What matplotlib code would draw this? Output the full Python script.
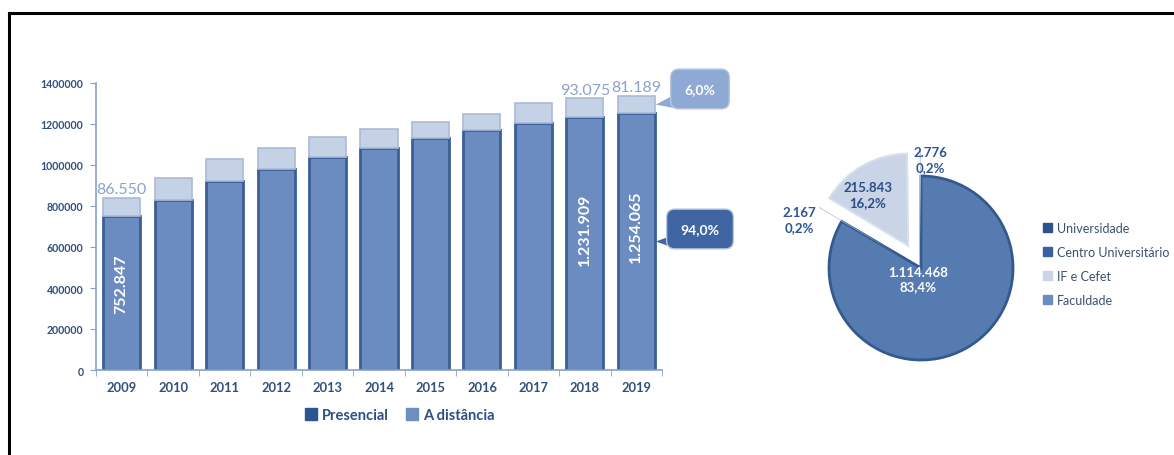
import matplotlib
matplotlib.use("Agg")
import matplotlib.pyplot as plt
from matplotlib.patches import Patch, Polygon
from matplotlib.lines import Line2D
import numpy as np

plt.rcParams['font.family'] = ['Lato', 'DejaVu Sans']

# matrículas por modalidade
anos = ['2009', '2010', '2011', '2012', '2013', '2014', '2015', '2016', '2017', '2018', '2019']
presencial = [752847, 829000, 923500, 982000, 1040600, 1081500, 1130000, 1171000, 1205000, 1231909, 1254065]
distancia = [86550, 107600, 105700, 102500, 94400, 95500, 81000, 78000, 99000, 93075, 81189]
rotulados = [0, 9, 10]  # anos com valores escritos
participacao_2019 = ['6,0%', '94,0%']

# distribuição por organização acadêmica (2019)
categorias = ['Universidade', 'Centro Universitário', 'IF e Cefet', 'Faculdade']
matriculas = [1114468, 2167, 215843, 2776]
rotulos_pizza = ['1.114.468\n83,4%', '2.167\n0,2%', '215.843\n16,2%', '2.776\n0,2%']
cores_legenda = ['#2c5290', '#3b62a0', '#c9d4e6', '#6c8dc1']
cores_fatias = ['#567bb1', '#b9c7de', '#c9d4e6', '#b9c7de']

def fmt(v):
    return f'{v:,}'.replace(',', '.')

W, H = 1174, 456
fig = plt.figure(figsize=(W / 100, H / 100), dpi=100)

# ---- barras ----
ax = fig.add_axes([96 / W, 1 - 371 / H, (662 - 96) / W, (371 - 84) / H])
x = np.arange(len(anos))
azul_eixo = '#86a0c8'
ax.bar(x, presencial, width=0.72, color='#6b8cc0', edgecolor='#3b5e97', linewidth=2, zorder=2)
ax.bar(x, distancia, width=0.72, bottom=presencial, color='#c5d1e5', edgecolor='#a9bbd8',
       linewidth=1.2, zorder=2)
ax.set_xlim(-0.5, len(anos) - 0.5)
ax.set_ylim(0, 1400000)
ax.set_yticks(range(0, 1400001, 200000))
ax.set_yticklabels([str(v) for v in range(0, 1400001, 200000)], fontsize=7.6,
                   color='#2f4f80', fontweight='bold')
ax.set_xticks(x)
ax.set_xticklabels(anos, fontsize=9.3, color='#2f4f80', fontweight='bold')
ax.set_xticks(np.arange(-0.5, len(anos)), minor=True)
ax.tick_params(axis='x', which='major', length=0, pad=8)
ax.tick_params(axis='x', which='minor', length=4, color=azul_eixo, direction='out')
ax.tick_params(axis='y', length=4, color=azul_eixo, pad=5)
for s in ['top', 'right']:
    ax.spines[s].set_visible(False)
for s in ['left', 'bottom']:
    ax.spines[s].set_color(azul_eixo)
    ax.spines[s].set_linewidth(1.2)

for i in rotulados:
    ax.text(x[i], presencial[i] + distancia[i] + 9000, fmt(distancia[i]), ha='center',
            va='bottom', fontsize=11.5, color='#8aa3cb')
    ax.text(x[i], presencial[i] * 0.56, fmt(presencial[i]), ha='center', va='center',
            rotation=90, fontsize=11.5, color='white', fontweight='bold')

# balões com participação em 2019
ult = len(anos) - 1
baloes = [
    (participacao_2019[0], presencial[ult] + distancia[ult] / 2, '#8ea9d3', 90),
    (participacao_2019[1], presencial[ult] / 2, '#3f66a3', 230),
]
for txt, yv, cor, ycaixa in baloes:
    tip = ax.transData.transform((x[ult] + 0.36, yv))
    tx, ty = tip[0] + 1, tip[1]
    yb = H - ycaixa
    tri = Polygon([(tx, ty), (674, yb - 19), (674, yb - 6)], closed=True,
                  facecolor=cor, edgecolor='none', transform=None, zorder=3)
    fig.patches.append(tri)
    fig.text(700 / W, yb / H, txt, ha='center', va='center',
             fontsize=10, fontweight='bold', color='white',
             bbox=dict(boxstyle='round,pad=1.0,rounding_size=0.6', facecolor=cor,
                       edgecolor='#b6c6df', linewidth=1))

fig.legend(handles=[Patch(color='#2d5591', label='Presencial'),
                    Patch(color='#6d8ec0', label='A distância')],
           loc='center', bbox_to_anchor=(400 / W, 1 - 416 / H), ncol=2, frameon=False,
           handlelength=0.8, handleheight=0.8, handletextpad=0.35, columnspacing=1.2,
           prop={'size': 10.5, 'weight': 'bold'}, labelcolor='#2d4f85')

# ---- pizza ----
cx, cy, r_px, meia = 921, 269, 92, 150
lim = meia / r_px
axp = fig.add_axes([(cx - meia) / W, (H - cy - meia) / H, 2 * meia / W, 2 * meia / H])
wedges, _ = axp.pie(matriculas, colors=cores_fatias, startangle=90, counterclock=False,
                    explode=[0, 0.29, 0.28, 0.29],
                    wedgeprops=dict(edgecolor='#34598f', linewidth=0))
wedges[0].set_edgecolor('#34598f')
wedges[0].set_linewidth(2)
wedges[2].set_edgecolor('#d7dfec')
wedges[2].set_linewidth(1.5)
axp.set_xlim(-lim, lim)
axp.set_ylim(-lim, lim)
axp.set_aspect('equal')
axp.axis('off')

pos_rotulos = [(-0.03, -0.12), (-1.32, 0.53), (-0.58, 0.80), (0.1, 1.18)]
cor_rotulos = ['white', '#2f5490', '#2b4d86', '#2f5490']
for (px, py), txt, c in zip(pos_rotulos, rotulos_pizza, cor_rotulos):
    axp.text(px, py, txt, ha='center', va='center', fontsize=9.5, fontweight='bold',
             color=c, linespacing=1.3)

fig.legend(handles=[Patch(color=c, label=l) for c, l in zip(cores_legenda, categorias)],
           loc='center left', bbox_to_anchor=(1032 / W, 1 - 265 / H), frameon=False,
           handlelength=0.7, handleheight=0.7, handletextpad=0.4, labelspacing=0.95,
           prop={'size': 9}, labelcolor='#3a4f70')

# moldura
fig.add_artist(Line2D([9 / W, 1], [1 - 14 / H, 1 - 14 / H], color='black', linewidth=2.2))
fig.add_artist(Line2D([9 / W, 9 / W], [0, 1 - 14 / H], color='black', linewidth=2.2))

fig.savefig('out.png', dpi=100)
